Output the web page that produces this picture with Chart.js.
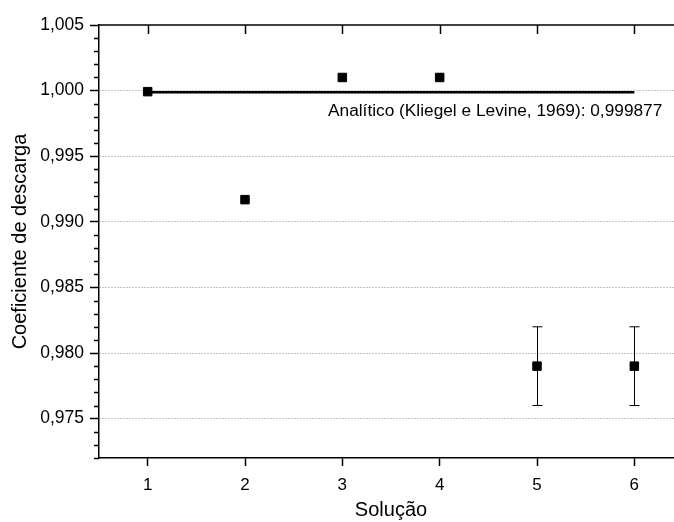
<!DOCTYPE html>
<html lang="pt">
<head>
<meta charset="UTF-8">
<title>Coeficiente de descarga</title>
<script src="https://cdn.jsdelivr.net/npm/chart.js"></script>
<style>
  html, body { margin: 0; padding: 0; background: #fff; overflow: hidden; }
  .chart-container { width: 690px; height: 522px; }
</style>
</head>
<body>
<div class="chart-container">
  <canvas id="coefChart"></canvas>
</div>
<script>
// data
const solucoes = [1, 2, 3, 4, 5, 6];
const coeficientes = [0.99992, 0.99169, 1.0010, 1.0010, 0.9790, 0.9790];
const erros = [0, 0, 0, 0, 0.003, 0.003];
const analitico = 0.999877;
const analiticoLabel = 'Analítico (Kliegel e Levine, 1969): 0,999877';
const yMajorTicks = [0.975, 0.980, 0.985, 0.990, 0.995, 1.000, 1.005];
const yMinorStep = 0.001;
const xTicks = [1, 2, 3, 4, 5, 6];

const FONT = 'Liberation Sans, Arial, sans-serif';
const fmt = v => v.toFixed(3).replace('.', ',');

// minor ticks, top frame, error bars and the analytic label
const extras = {
  id: 'extras',
  afterDatasetsDraw(chart) {
    const { ctx, chartArea: a, scales: { x, y } } = chart;
    ctx.save();
    ctx.strokeStyle = '#000';
    ctx.lineWidth = 1.5;
    // minor ticks on the y axis
    for (let v = y.min; v <= y.max + 1e-9; v += yMinorStep) {
      const r = Math.round(v * 1000) / 1000;
      if (yMajorTicks.some(m => Math.abs(m - r) < 1e-9)) continue;
      const py = Math.round(y.getPixelForValue(r)) + 0.5;
      ctx.beginPath();
      ctx.moveTo(a.left - 5, py);
      ctx.lineTo(a.left, py);
      ctx.stroke();
    }
    // top frame with inward ticks
    ctx.beginPath();
    ctx.moveTo(a.left, a.top);
    ctx.lineTo(a.right, a.top);
    ctx.stroke();
    xTicks.forEach(v => {
      const px = Math.round(x.getPixelForValue(v)) + 0.5;
      ctx.beginPath();
      ctx.moveTo(px, a.top);
      ctx.lineTo(px, a.top + 9);
      ctx.stroke();
    });
    // error bars
    ctx.lineWidth = 1;
    solucoes.forEach((s, i) => {
      if (!erros[i]) return;
      const px = Math.round(x.getPixelForValue(s)) + 0.5;
      const top = y.getPixelForValue(coeficientes[i] + erros[i]);
      const bot = y.getPixelForValue(coeficientes[i] - erros[i]);
      ctx.beginPath();
      ctx.moveTo(px, top); ctx.lineTo(px, bot);
      ctx.moveTo(px - 5, top); ctx.lineTo(px + 5, top);
      ctx.moveTo(px - 5, bot); ctx.lineTo(px + 5, bot);
      ctx.stroke();
    });
    // analytic label, below the right end of the line
    ctx.fillStyle = '#000';
    ctx.font = '17.3px ' + FONT;
    ctx.textAlign = 'right';
    ctx.textBaseline = 'top';
    ctx.fillText(analiticoLabel,
      x.getPixelForValue(solucoes[solucoes.length - 1]) + 28,
      y.getPixelForValue(analitico) + 10);
    ctx.restore();
  }
};

const ctx = document.getElementById('coefChart').getContext('2d');
new Chart(ctx, {
  type: 'scatter',
  data: {
    datasets: [
      {
        type: 'line',
        data: [
          { x: solucoes[0], y: analitico },
          { x: solucoes[solucoes.length - 1], y: analitico }
        ],
        borderColor: '#000',
        borderWidth: 2.5,
        pointRadius: 0
      },
      {
        data: solucoes.map((s, i) => ({ x: s, y: coeficientes[i] })),
        pointStyle: 'rect',
        pointRadius: 6,
        borderWidth: 1,
        backgroundColor: '#000',
        borderColor: '#000'
      }
    ]
  },
  options: {
    responsive: true,
    maintainAspectRatio: false,
    animation: false,
    layout: { padding: { top: 25, right: 2, left: 0, bottom: 0 } },
    plugins: { legend: { display: false }, tooltip: { enabled: false } },
    scales: {
      x: {
        type: 'linear',
        min: 0.5,
        max: 6.5,
        afterBuildTicks: axis => { axis.ticks = xTicks.map(v => ({ value: v })); },
        afterFit: axis => { axis.height = 64; },
        grid: { drawOnChartArea: false, drawTicks: true, tickLength: 8, tickColor: '#000', tickWidth: 1.5 },
        border: { display: true, color: '#000', width: 1.5 },
        ticks: { color: '#000', font: { family: FONT, size: 17 }, padding: 9, callback: v => String(v) },
        title: { display: true, text: 'Solução', color: '#000', font: { family: FONT, size: 20 }, padding: { top: 0, bottom: 0 } }
      },
      y: {
        min: 0.972,
        max: 1.005,
        afterBuildTicks: axis => { axis.ticks = yMajorTicks.map(v => ({ value: v })); },
        afterFit: axis => { axis.width = 99; },
        grid: {
          drawOnChartArea: true,
          color: c => (c.tick && c.tick.value > 1.004) ? 'rgba(0,0,0,0)' : '#888',
          lineWidth: 1,
          drawTicks: true,
          tickLength: 9,
          tickColor: '#000',
          tickWidth: 1.5
        },
        border: { display: true, color: '#000', width: 1.5, dash: [1, 2] },
        ticks: { color: '#000', font: { family: FONT, size: 17.5 }, padding: 6, callback: v => fmt(v) },
        title: { display: true, text: 'Coeficiente de descarga', color: '#000', font: { family: FONT, size: 20 }, padding: { top: 8, bottom: 0 } }
      }
    }
  },
  plugins: [extras]
});
</script>
</body>
</html>
